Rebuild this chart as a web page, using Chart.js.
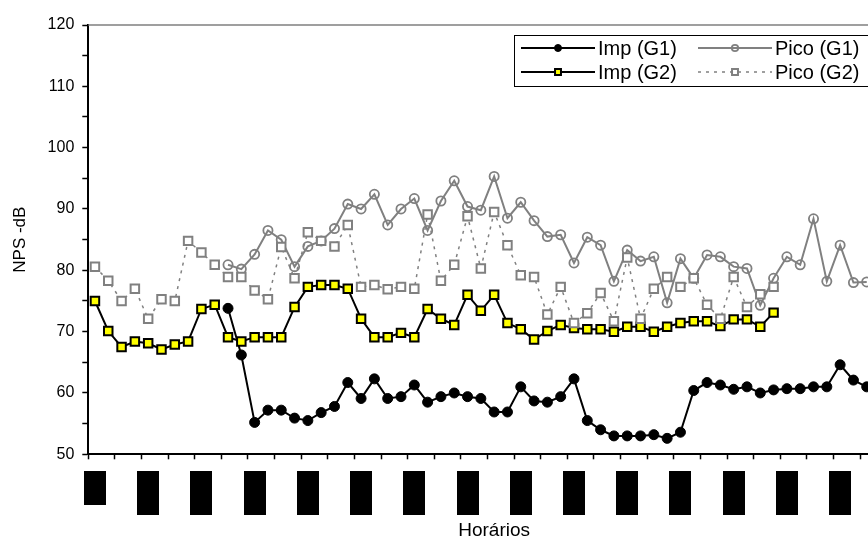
<!DOCTYPE html>
<html>
<head>
<meta charset="utf-8">
<script src="https://cdn.jsdelivr.net/npm/chart.js@4.4.0/dist/chart.umd.min.js"></script>
<style>
  html, body { margin: 0; padding: 0; background: #fff; overflow: hidden; }
</style>
</head>
<body>
<canvas id="grafico" width="908" height="544"></canvas>
<script>
// horarios (categorias do eixo x, sem rotulo visivel)
var horarios = Array.from({ length: 61 }, function (_, i) { return String(i + 1); });

var impG1 = [
  null, null, null, null, null, null, null, null, null, null,
  73.8, 66.2, 55.2, 57.2, 57.2, 55.9, 55.5, 56.8, 57.8, 61.7,
  59.1, 62.3, 59.1, 59.4, 61.3, 58.5, 59.4, 60.0, 59.4, 59.1,
  56.9, 56.9, 61.0, 58.7, 58.5, 59.4, 62.3, 55.5, 54.0, 53.0,
  53.0, 53.0, 53.2, 52.6, 53.6, 60.4, 61.7, 61.3, 60.6, 61.0,
  60.0, 60.5, 60.7, 60.7, 61.0, 61.0, 64.6, 62.1, 61.0
];
var picoG1 = [
  null, null, null, null, null, null, null, null, null, null,
  80.9, 80.2, 82.6, 86.5, 85.0, 80.6, 83.9, 84.8, 86.8, 90.8,
  90.0, 92.4, 87.4, 90.0, 91.7, 86.5, 91.3, 94.6, 90.4, 89.8,
  95.3, 88.5, 91.1, 88.1, 85.5, 85.8, 81.2, 85.4, 84.1, 78.2,
  83.3, 81.5, 82.2, 74.7, 81.9, 78.7, 82.5, 82.2, 80.6, 80.3,
  74.3, 78.7, 82.2, 80.9, 88.4, 78.2, 84.1, 78.0, 78.1
];
var impG2 = [
  75.0, 70.1, 67.5, 68.4, 68.1, 67.1, 67.9, 68.4, 73.7, 74.4,
  69.1, 68.4, 69.1, 69.1, 69.1, 74.0, 77.3, 77.6, 77.6, 77.0,
  72.1, 69.1, 69.1, 69.8, 69.1, 73.7, 72.1, 71.1, 76.0, 73.4,
  76.0, 71.4, 70.4, 68.7, 70.1, 71.1, 70.6, 70.4, 70.4, 70.0,
  70.8, 70.8, 70.0, 70.8, 71.4, 71.7, 71.7, 70.9, 72.0, 72.0,
  70.8, 73.1
];
var picoG2 = [
  80.6, 78.3, 75.0, 77.0, 72.1, 75.3, 75.0, 84.8, 82.9, 80.9,
  78.9, 78.9, 76.7, 75.3, 83.8, 78.7, 86.2, 84.8, 83.9, 87.4,
  77.3, 77.6, 76.9, 77.3, 77.0, 89.1, 78.3, 80.9, 88.8, 80.3,
  89.5, 84.1, 79.2, 78.9, 72.8, 77.3, 71.4, 73.0, 76.3, 71.7,
  82.1, 72.1, 77.0, 78.9, 77.3, 78.7, 74.4, 72.1, 78.9, 74.0,
  76.1, 77.3
];

// periodos marcados com blocos pretos sob o eixo (indice do horario e fracao do periodo)
var blocos = [0, 4, 8, 12, 16, 20, 24, 28, 32, 36, 40, 44, 48, 52, 56];
var blocosAltura = [0.77, 1, 1, 1, 1, 1, 1, 1, 1, 1, 1, 1, 1, 1, 1];

var eixoY = { min: 50, max: 120, passo: 5, rotulo: 10 };

var fonte = '"Liberation Sans", Arial, sans-serif';
Chart.defaults.font.family = fonte;
Chart.defaults.color = '#000';

var extras = {
  id: 'extras',
  afterDraw: function (chart) {
    var ctx = chart.ctx;
    var area = chart.chartArea;
    var x = chart.scales.x;
    ctx.save();

    // borda da area de plotagem
    ctx.strokeStyle = '#808080';
    ctx.lineWidth = 1.5;
    ctx.beginPath();
    ctx.moveTo(area.left, area.top);
    ctx.lineTo(area.right, area.top);
    ctx.lineTo(area.right, area.bottom);
    ctx.stroke();

    // blocos pretos
    ctx.fillStyle = '#000';
    blocos.forEach(function (idx, k) {
      var cx = x.getPixelForValue(idx);
      ctx.fillRect(Math.round(cx - 11), Math.round(x.top + 17), 22, Math.round(44 * blocosAltura[k]));
    });

    // legenda
    ctx.fillStyle = '#fff';
    ctx.fillRect(514, 35, 380, 51);
    ctx.strokeStyle = '#000';
    ctx.lineWidth = 1;
    ctx.strokeRect(514.5, 35.5, 380, 51);

    var colX = [521, 698];
    var linY = [48, 72];
    chart.data.datasets.forEach(function (ds, k) {
      var x0 = colX[k % 2];
      var y0 = linY[Math.floor(k / 2)];
      ctx.strokeStyle = ds.borderColor;
      ctx.lineWidth = ds.borderWidth;
      ctx.setLineDash(ds.borderDash || []);
      ctx.beginPath();
      ctx.moveTo(x0, y0);
      ctx.lineTo(x0 + 74, y0);
      ctx.stroke();
      ctx.setLineDash([]);
      ctx.fillStyle = ds.pointBackgroundColor;
      ctx.strokeStyle = ds.pointBorderColor;
      ctx.lineWidth = ds.pointBorderWidth;
      Chart.helpers.drawPoint(ctx, {
        pointStyle: ds.pointStyle,
        radius: ds.pointRadius * 0.7,
        rotation: 0,
        borderWidth: ds.pointBorderWidth
      }, x0 + 37, y0);
      ctx.fillStyle = '#000';
      ctx.font = '20px ' + fonte;
      ctx.textBaseline = 'middle';
      ctx.textAlign = 'left';
      ctx.fillText(ds.label, x0 + 77, y0 + 1);
    });

    ctx.restore();
  }
};

var config = {
  type: 'line',
  data: {
    labels: horarios,
    datasets: [
      {
        label: 'Imp (G1)',
        data: impG1,
        borderColor: '#000',
        borderWidth: 2,
        pointStyle: 'circle',
        pointRadius: 5,
        pointBackgroundColor: '#000',
        pointBorderColor: '#000',
        pointBorderWidth: 1,
        order: 4
      },
      {
        label: 'Pico (G1)',
        data: picoG1,
        borderColor: '#808080',
        borderWidth: 2,
        pointStyle: 'circle',
        pointRadius: 4.6,
        pointBackgroundColor: 'rgba(255,255,255,0)',
        pointBorderColor: '#808080',
        pointBorderWidth: 1.8,
        order: 3
      },
      {
        label: 'Imp (G2)',
        data: impG2,
        borderColor: '#000',
        borderWidth: 2,
        pointStyle: 'rect',
        pointRadius: 6,
        pointBackgroundColor: '#ffff00',
        pointBorderColor: '#000',
        pointBorderWidth: 2,
        order: 2
      },
      {
        label: 'Pico (G2)',
        data: picoG2,
        borderColor: '#808080',
        borderWidth: 1.5,
        borderDash: [3, 5],
        pointStyle: 'rect',
        pointRadius: 6,
        pointBackgroundColor: '#fff',
        pointBorderColor: '#808080',
        pointBorderWidth: 2,
        order: 1
      }
    ]
  },
  options: {
    responsive: false,
    animation: false,
    layout: { padding: { top: 25, right: 4.3, bottom: 0, left: 0 } },
    plugins: {
      legend: { display: false },
      tooltip: { enabled: false }
    },
    elements: { line: { tension: 0 } },
    scales: {
      x: {
        type: 'category',
        offset: true,
        grid: {
          offset: true,
          drawOnChartArea: false,
          tickLength: 5,
          tickWidth: 1.5,
          tickColor: function (c) { return c.index % 2 === 0 ? '#000' : 'rgba(0,0,0,0)'; }
        },
        border: { color: '#000', width: 2 },
        ticks: { display: false },
        title: {
          display: true,
          text: 'Horários',
          font: { size: 19 },
          padding: { top: 0, bottom: 2 }
        },
        afterFit: function (s) { s.height = 89.7; }
      },
      y: {
        min: eixoY.min,
        max: eixoY.max,
        grid: {
          drawOnChartArea: false,
          tickLength: 6,
          tickWidth: 1.5,
          tickColor: '#000'
        },
        border: { color: '#000', width: 2 },
        ticks: {
          stepSize: eixoY.passo,
          padding: 8,
          font: { size: 16 },
          callback: function (v) { return v % eixoY.rotulo === 0 ? v : ''; }
        },
        title: {
          display: true,
          text: 'NPS -dB',
          font: { size: 17 },
          padding: { top: 10, bottom: 0 }
        },
        afterFit: function (s) { s.width = 88.3; }
      }
    }
  },
  plugins: [extras]
};

var grafico = new Chart(document.getElementById('grafico'), config);
</script>
</body>
</html>
